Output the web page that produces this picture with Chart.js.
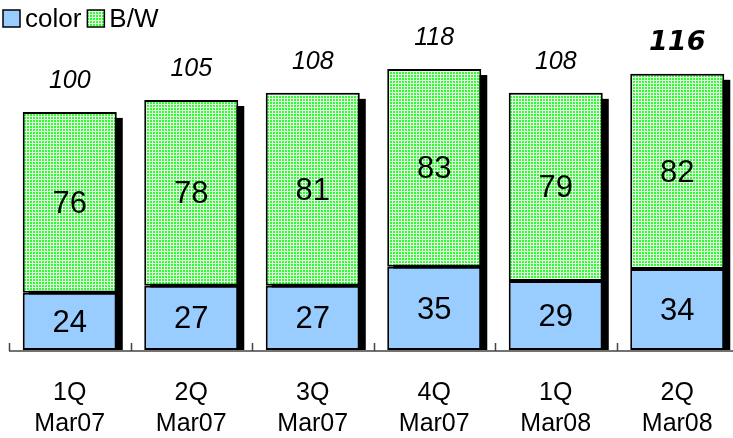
<!DOCTYPE html>
<html>
<head>
<meta charset="utf-8">
<script src="https://cdn.jsdelivr.net/npm/chart.js@4.4.1/dist/chart.umd.min.js"></script>
<style>
  html, body { margin: 0; padding: 0; background: #fff; overflow: hidden; }
  #wrap { width: 733px; height: 438px; overflow: hidden; }
</style>
</head>
<body>
<div id="wrap"><canvas id="chart" width="738" height="438"></canvas></div>
<script>
const quarters = [["1Q", "Mar07"], ["2Q", "Mar07"], ["3Q", "Mar07"], ["4Q", "Mar07"], ["1Q", "Mar08"], ["2Q", "Mar08"]];
const colorPages = [24, 27, 27, 35, 29, 34];
const bwPages = [76, 78, 81, 83, 79, 82];
const totalPages = [100, 105, 108, 118, 108, 116];
const seriesNames = ["color", "B/W"];

const FONT = "'Liberation Sans', Arial, sans-serif";

/* green hatch used for the B/W part */
function makeHatch(ctx) {
  const tile = document.createElement("canvas");
  tile.width = 3;
  tile.height = 3;
  const t = tile.getContext("2d");
  t.fillStyle = "#eaffea";
  t.fillRect(0, 0, 3, 3);
  t.fillStyle = "#2cff2c";
  t.fillRect(0, 0, 2, 2);
  return ctx.createPattern(tile, "repeat");
}

const canvas = document.getElementById("chart");
const ctx = canvas.getContext("2d");
const hatch = makeHatch(ctx);
const blue = "#99ccff";

/* black drop shadow behind each stacked bar */
const shadowPlugin = {
  id: "shadow",
  beforeDatasetsDraw(chart) {
    const c = chart.ctx;
    const top = chart.getDatasetMeta(1).data;
    const bottom = chart.getDatasetMeta(0).data;
    c.save();
    c.fillStyle = "#000";
    top.forEach((bar, i) => {
      const base = bottom[i].base;
      c.fillRect(bar.x - bar.width / 2 + 6, bar.y + 6, bar.width, base - bar.y - 6);
    });
    c.restore();
  }
};

/* axis line with small upward ticks between categories */
const axisPlugin = {
  id: "axisLine",
  afterDatasetsDraw(chart) {
    const c = chart.ctx;
    const xs = chart.scales.x;
    const y = chart.chartArea.bottom + 1;
    const step = (xs.right - xs.left) / quarters.length;
    c.save();
    c.strokeStyle = "#444";
    c.lineWidth = 1.5;
    c.beginPath();
    c.moveTo(xs.left, y);
    c.lineTo(xs.right, y);
    for (let i = 0; i <= quarters.length; i += 1) {
      const x = Math.round(xs.left + i * step) + 0.5;
      c.moveTo(x, y);
      c.lineTo(x, y - 8);
    }
    c.stroke();
    c.restore();
  }
};

/* numbers inside the segments and totals above */
const labelPlugin = {
  id: "valueLabels",
  afterDatasetsDraw(chart) {
    const c = chart.ctx;
    c.save();
    c.fillStyle = "#000";
    c.textAlign = "center";
    c.textBaseline = "middle";
    c.font = `31px ${FONT}`;
    [0, 1].forEach(d => {
      const meta = chart.getDatasetMeta(d);
      meta.data.forEach((bar, i) => {
        const v = chart.data.datasets[d].data[i];
        c.fillText(String(v), bar.x, (bar.y + bar.base) / 2 + 2);
      });
    });
    const topBars = chart.getDatasetMeta(1).data;
    topBars.forEach((bar, i) => {
      if (i === totalPages.length - 1) {
        c.font = `italic bold 27px 'DejaVu Sans', sans-serif`;
      } else {
        c.font = `italic 25px ${FONT}`;
      }
      c.fillText(String(totalPages[i]), bar.x, bar.y - 31);
    });
    c.restore();
  }
};

/* legend in the top left corner */
const legendPlugin = {
  id: "cornerLegend",
  afterDraw(chart) {
    const c = chart.ctx;
    c.save();
    c.font = `26px ${FONT}`;
    c.textBaseline = "middle";
    let x = 3;
    const y = 19;
    [blue, hatch].forEach((fill, i) => {
      c.fillStyle = fill;
      c.fillRect(x, y - 9, 17, 17);
      c.strokeStyle = "#000";
      c.lineWidth = 1.5;
      c.strokeRect(x, y - 9, 17, 17);
      c.fillStyle = "#000";
      c.fillText(seriesNames[i], x + 22, y + 1);
      x += 22 + c.measureText(seriesNames[i]).width + 6;
    });
    c.restore();
  }
};

new Chart(ctx, {
  type: "bar",
  data: {
    labels: quarters,
    datasets: [
      {
        label: seriesNames[0],
        data: colorPages,
        backgroundColor: blue,
        borderColor: "#000",
        borderWidth: 2,
        borderSkipped: false
      },
      {
        label: seriesNames[1],
        data: bwPages,
        backgroundColor: hatch,
        borderColor: "#000",
        borderWidth: 2,
        borderSkipped: false
      }
    ]
  },
  options: {
    responsive: false,
    animation: false,
    layout: { padding: { left: 9, right: 0, top: 0, bottom: 0 } },
    datasets: { bar: { categoryPercentage: 1, barPercentage: 0.774 } },
    plugins: {
      legend: { display: false },
      tooltip: { enabled: false }
    },
    scales: {
      x: {
        stacked: true,
        grid: { display: false },
        border: { display: false },
        ticks: {
          color: "#000",
          padding: 19,
          font: { family: FONT, size: 25, lineHeight: 1.25 },
          maxRotation: 0,
          autoSkip: false
        },
        afterFit: s => { s.height = 88; }
      },
      y: {
        stacked: true,
        display: false,
        min: 0,
        max: 147
      }
    }
  },
  plugins: [shadowPlugin, axisPlugin, labelPlugin, legendPlugin]
});
</script>
</body>
</html>
